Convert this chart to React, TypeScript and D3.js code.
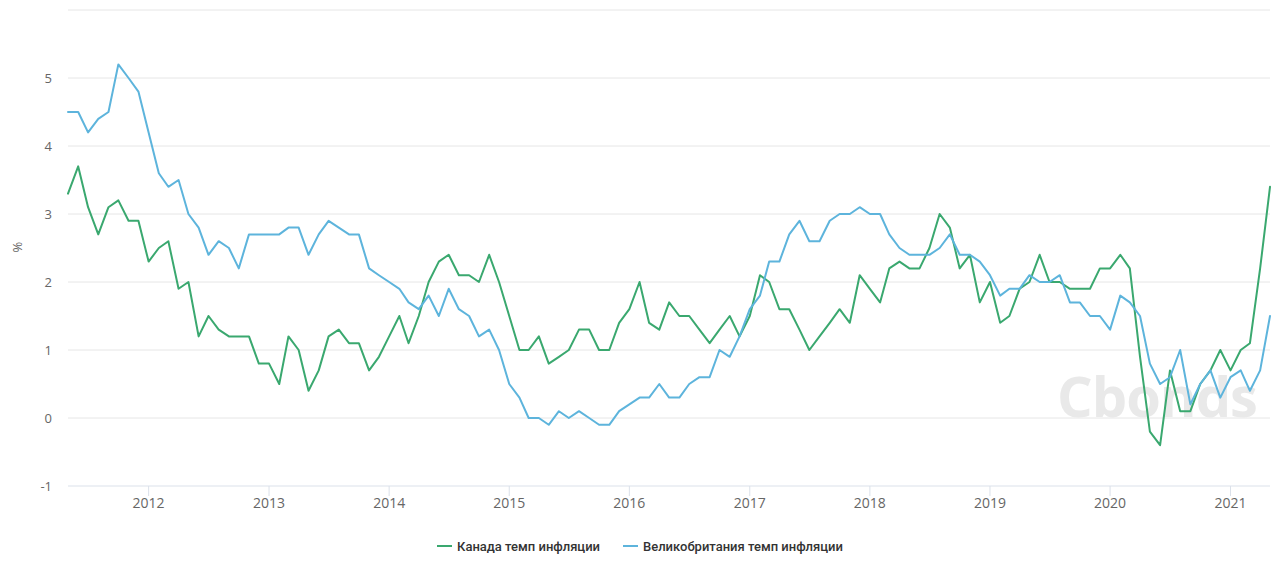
import React from "react";
import * as d3 from "d3";

const startYear = 2011;
const startMonth = 3; // April (0-based), data stamped at month end

const canada: number[] = [
  3.3, 3.7, 3.1, 2.7, 3.1, 3.2, 2.9, 2.9, 2.3,
  2.5, 2.6, 1.9, 2.0, 1.2, 1.5, 1.3, 1.2, 1.2, 1.2, 0.8, 0.8,
  0.5, 1.2, 1.0, 0.4, 0.7, 1.2, 1.3, 1.1, 1.1, 0.7, 0.9, 1.2,
  1.5, 1.1, 1.5, 2.0, 2.3, 2.4, 2.1, 2.1, 2.0, 2.4, 2.0, 1.5,
  1.0, 1.0, 1.2, 0.8, 0.9, 1.0, 1.3, 1.3, 1.0, 1.0, 1.4, 1.6,
  2.0, 1.4, 1.3, 1.7, 1.5, 1.5, 1.3, 1.1, 1.3, 1.5, 1.2, 1.5,
  2.1, 2.0, 1.6, 1.6, 1.3, 1.0, 1.2, 1.4, 1.6, 1.4, 2.1, 1.9,
  1.7, 2.2, 2.3, 2.2, 2.2, 2.5, 3.0, 2.8, 2.2, 2.4, 1.7, 2.0,
  1.4, 1.5, 1.9, 2.0, 2.4, 2.0, 2.0, 1.9, 1.9, 1.9, 2.2, 2.2,
  2.4, 2.2, 0.9, -0.2, -0.4, 0.7, 0.1, 0.1, 0.5, 0.7, 1.0, 0.7,
  1.0, 1.1, 2.2, 3.4,
];

const uk: number[] = [
  4.5, 4.5, 4.2, 4.4, 4.5, 5.2, 5.0, 4.8, 4.2,
  3.6, 3.4, 3.5, 3.0, 2.8, 2.4, 2.6, 2.5, 2.2, 2.7, 2.7, 2.7,
  2.7, 2.8, 2.8, 2.4, 2.7, 2.9, 2.8, 2.7, 2.7, 2.2, 2.1, 2.0,
  1.9, 1.7, 1.6, 1.8, 1.5, 1.9, 1.6, 1.5, 1.2, 1.3, 1.0, 0.5,
  0.3, 0.0, 0.0, -0.1, 0.1, 0.0, 0.1, 0.0, -0.1, -0.1, 0.1, 0.2,
  0.3, 0.3, 0.5, 0.3, 0.3, 0.5, 0.6, 0.6, 1.0, 0.9, 1.2, 1.6,
  1.8, 2.3, 2.3, 2.7, 2.9, 2.6, 2.6, 2.9, 3.0, 3.0, 3.1, 3.0,
  3.0, 2.7, 2.5, 2.4, 2.4, 2.4, 2.5, 2.7, 2.4, 2.4, 2.3, 2.1,
  1.8, 1.9, 1.9, 2.1, 2.0, 2.0, 2.1, 1.7, 1.7, 1.5, 1.5, 1.3,
  1.8, 1.7, 1.5, 0.8, 0.5, 0.6, 1.0, 0.2, 0.5, 0.7, 0.3, 0.6,
  0.7, 0.4, 0.7, 1.5,
];

const yTicks: number[] = [-1, 0, 1, 2, 3, 4, 5, 6];
const yTickLabels: string[] = ["-1", "0", "1", "2", "3", "4", "5", ""];
const xTickYears: number[] = [2012, 2013, 2014, 2015, 2016, 2017, 2018, 2019, 2020, 2021];

const seriesNames: string[] = ["Канада темп инфляции", "Великобритания темп инфляции"];
const seriesColors: string[] = ["#3aa86f", "#5db4dc"];

const W = 1280;
const H = 578;
const left = 68;
const right = 1270;
const top = 10;
const bottom = 486;

function dateOf(i: number): Date {
  // data stamped at end of month → start of next month
  return new Date(startYear, startMonth + i + 1, 1);
}

export default function App() {
  const x = d3
    .scaleTime()
    .domain([dateOf(0), dateOf(canada.length - 1)])
    .range([left, right]);
  const y = d3.scaleLinear().domain([-1, 6]).range([bottom, top]);

  const line = d3
    .line<number>()
    .x((_, i) => x(dateOf(i)))
    .y((d) => y(d));

  const series = [canada, uk];

  const legendY = 546;
  const legendItems = [
    { x: 437, name: seriesNames[0], color: seriesColors[0] },
    { x: 623, name: seriesNames[1], color: seriesColors[1] },
  ];

  return (
    <svg
      width={W}
      height={H}
      style={{ position: "absolute", left: 0, top: 0, background: "#fff" }}
    >
      {/* gridlines */}
      {yTicks.map((t) =>
        t === -1 ? null : (
          <line
            key={"g" + t}
            x1={left}
            x2={right}
            y1={y(t)}
            y2={y(t)}
            stroke="#e6e6e6"
            strokeWidth={1}
          />
        )
      )}
      {/* watermark */}
      <text
        x={1157}
        y={417}
        textAnchor="middle"
        fontFamily="Open Sans, sans-serif"
        fontWeight={700}
        fontSize={56}
        fill="#e9e9e9"
        letterSpacing={-1}
      >
        Cbonds
      </text>
      {/* x axis line */}
      <line x1={left} x2={right} y1={bottom} y2={bottom} stroke="#dbe1ea" strokeWidth={1} />
      {xTickYears.map((yr) => {
        const xx = x(new Date(yr, 0, 1));
        return (
          <g key={"x" + yr}>
            <line x1={xx} x2={xx} y1={bottom} y2={bottom + 10} stroke="#dbe1ea" strokeWidth={1} />
            <text
              x={xx}
              y={508}
              textAnchor="middle"
              fontFamily="Open Sans, sans-serif"
              fontSize={14}
              fill="#666"
            >
              {yr}
            </text>
          </g>
        );
      })}
      {yTicks.map((t, i) => (
        <text
          key={"y" + t}
          x={52}
          y={y(t) + 5}
          textAnchor="end"
          fontFamily="Open Sans, sans-serif"
          fontSize={13}
          fill="#666"
        >
          {yTickLabels[i]}
        </text>
      ))}
      <text
        transform={`translate(22,247) rotate(-90)`}
        textAnchor="middle"
        fontFamily="Open Sans, sans-serif"
        fontSize={13}
        fill="#666"
      >
        %
      </text>
      {/* lines */}
      {series.map((s, k) => (
        <path
          key={"s" + k}
          d={line(s) || ""}
          fill="none"
          stroke={seriesColors[k]}
          strokeWidth={2}
          strokeLinejoin="round"
          strokeLinecap="round"
        />
      ))}
      {/* legend */}
      {legendItems.map((it) => (
        <g key={it.name}>
          <line
            x1={it.x}
            x2={it.x + 15}
            y1={legendY}
            y2={legendY}
            stroke={it.color}
            strokeWidth={2}
          />
          <text
            x={it.x + 20}
            y={legendY + 4.5}
            fontFamily="Roboto, sans-serif"
            fontWeight={500}
            fontSize={13}
            fill="#333"
          >
            {it.name}
          </text>
        </g>
      ))}
    </svg>
  );
}
